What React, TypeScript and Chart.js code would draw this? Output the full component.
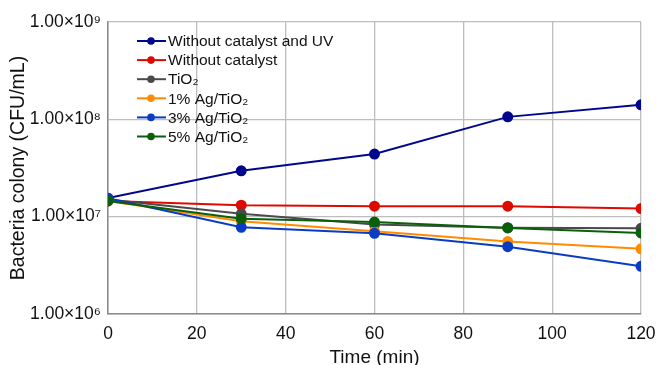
import React, { useEffect, useRef } from "react";
import { Chart, registerables } from "chart.js";

Chart.register(...registerables);

const times = [0, 30, 60, 90, 120];
const seriesLabels = [
  "Without catalyst and UV",
  "Without catalyst",
  "TiO₂",
  "1% Ag/TiO₂",
  "3% Ag/TiO₂",
  "5% Ag/TiO₂",
];
const noCatalystNoUV = [1.55e7, 2.96e7, 4.4e7, 1.06e8, 1.41e8];
const noCatalyst = [1.45e7, 1.31e7, 1.28e7, 1.28e7, 1.21e7];
const tio2 = [1.5e7, 1.07e7, 8.3e6, 7.7e6, 7.6e6];
const ag1 = [1.45e7, 8.96e6, 7.07e6, 5.55e6, 4.67e6];
const ag3 = [1.55e7, 7.77e6, 6.75e6, 4.92e6, 3.09e6];
const ag5 = [1.45e7, 9.53e6, 8.81e6, 7.66e6, 6.81e6];
const yTicks = [1e6, 1e7, 1e8, 1e9];
const xTicks = [0, 20, 40, 60, 80, 100, 120];

const colors = ["#00078c", "#dd0a00", "#4a4a4a", "#ff8c00", "#0a3cc3", "#0a5f0a"];
const allSeries = [noCatalystNoUV, noCatalyst, tio2, ag1, ag3, ag5];

const supMap: Record<string, string> = {
  "0": "⁰", "1": "¹", "2": "²", "3": "³", "4": "⁴",
  "5": "⁵", "6": "⁶", "7": "⁷", "8": "⁸", "9": "⁹",
};

function fmt(v: number) {
  const e = Math.round(Math.log10(v));
  return "1.00×10" + String(e).split("").map((c) => supMap[c] || c).join("");
}

const FONT = "'Liberation Sans', Arial, sans-serif";

const legendPlugin = {
  id: "inLegend",
  afterDraw(chart: any) {
    const { ctx, chartArea } = chart;
    const x0 = chartArea.left + 29;
    const y0 = chartArea.top + 19;
    ctx.save();
    ctx.font = "15.5px " + FONT;
    ctx.textBaseline = "middle";
    chart.data.datasets.forEach((ds: any, i: number) => {
      const y = y0 + i * 19.1;
      ctx.strokeStyle = ds.borderColor;
      ctx.lineWidth = 2;
      ctx.beginPath();
      ctx.moveTo(x0, y);
      ctx.lineTo(x0 + 29, y);
      ctx.stroke();
      ctx.fillStyle = ds.borderColor;
      ctx.beginPath();
      ctx.arc(x0 + 14, y, 3.8, 0, Math.PI * 2);
      ctx.fill();
      ctx.fillStyle = "#111";
      ctx.fillText(ds.label, x0 + 31, y + 1);
    });
    ctx.restore();
  },
};

export default function App() {
  const ref = useRef<HTMLCanvasElement>(null);
  useEffect(() => {
    document.body.style.margin = "0";
    const chart = new Chart(ref.current!, {
      type: "line",
      data: {
        datasets: allSeries.map((s, i) => ({
          label: seriesLabels[i],
          data: s.map((v, j) => ({ x: times[j], y: v })),
          borderColor: colors[i],
          backgroundColor: colors[i],
          borderWidth: 2,
          pointRadius: 4.5,
          pointHoverRadius: 4.5,
          tension: 0,
          order: allSeries.length - i,
        })),
      },
      options: {
        animation: false,
        responsive: false,
        devicePixelRatio: 1,
        layout: { padding: { left: 7, right: 19, top: 22, bottom: 0 } },
        plugins: { legend: { display: false }, tooltip: { enabled: false } },
        scales: {
          x: {
            type: "linear",
            min: 0,
            max: 120,
            afterBuildTicks: (scale: any) => {
              scale.ticks = xTicks.map((v) => ({ value: v }));
            },
            afterFit: (scale: any) => {
              scale.height = 51;
              scale.paddingLeft = 0;
              scale.paddingRight = 0;
            },
            ticks: {
              color: "#111",
              font: { family: FONT, size: 17.5 },
              maxRotation: 0,
              padding: 10,
            },
            grid: { color: "#bdbdbd", lineWidth: 1.3, drawTicks: false },
            border: { color: "#8a8a8a", width: 1.5 },
            title: {
              display: true,
              text: "Time (min)",
              color: "#111",
              font: { family: FONT, size: 19 },
              padding: { top: 0, bottom: -4 },
            },
          },
          y: {
            type: "logarithmic",
            min: 1e6,
            max: 1e9,
            afterBuildTicks: (scale: any) => {
              scale.ticks = yTicks.map((v) => ({ value: v, major: true }));
            },
            afterFit: (scale: any) => {
              scale.width = 101;
              scale.paddingTop = 0;
              scale.paddingBottom = 0;
            },
            ticks: {
              color: "#111",
              font: { family: FONT, size: 17.5 },
              padding: 7,
              callback: (v: any) => fmt(Number(v)),
            },
            grid: { color: "#bdbdbd", lineWidth: 1.3, drawTicks: false },
            border: { color: "#8a8a8a", width: 1.5 },
            title: {
              display: true,
              text: "Bacteria colony (CFU/mL)",
              color: "#111",
              font: { family: FONT, size: 19.5 },
              padding: { top: 0, bottom: 0 },
            },
          },
        },
      },
      plugins: [legendPlugin],
    } as any);
    return () => chart.destroy();
  }, []);
  return (
    <div style={{ position: "absolute", left: 0, top: 0, width: 660, height: 365 }}>
      <canvas ref={ref} width={660} height={365} style={{ width: 660, height: 365 }} />
    </div>
  );
}
